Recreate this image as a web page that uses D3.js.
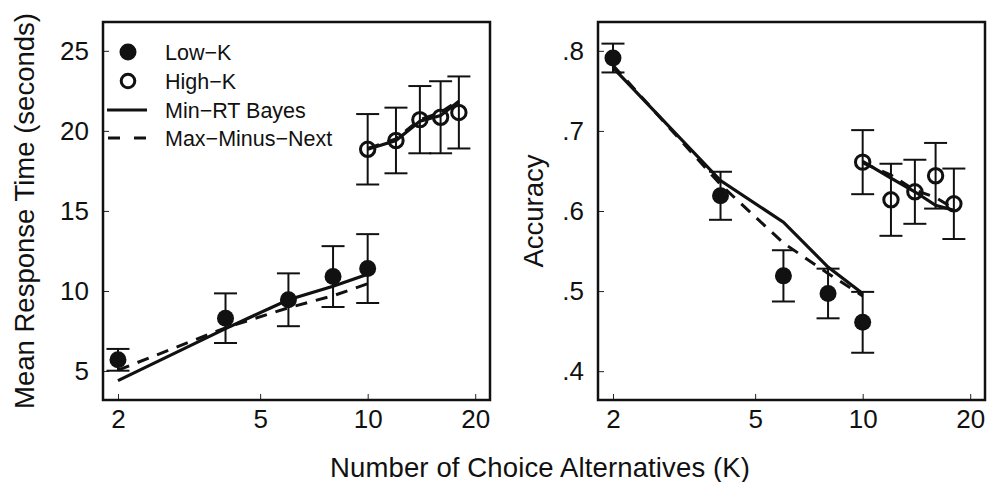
<!DOCTYPE html>
<html>
<head>
<meta charset="utf-8">
<script src="https://cdn.jsdelivr.net/npm/d3@7"></script>
<style>
  body { margin: 0; background: #fff; }
  svg text { font-family: "Liberation Sans", Arial, Helvetica, sans-serif; fill: #111; }
</style>
</head>
<body>
<div id="main"></div>
<script>
// number of alternatives
var kLow = [2, 4, 6, 8, 10];
var kHigh = [10, 12, 14, 16, 18];

// mean response time (seconds)
var rtLowMean = [5.7, 8.3, 9.45, 10.9, 11.4];
var rtLowErr = [0.68, 1.55, 1.65, 1.9, 2.15];
var rtHighMean = [18.85, 19.4, 20.7, 20.85, 21.15];
var rtHighErr = [2.2, 2.05, 2.1, 2.25, 2.25];
var rtLowBayes = [4.4, 7.65, 9.45, 10.3, 11.05];
var rtLowMMN = [5.05, 7.7, 8.95, 9.7, 10.45];
var rtHighBayes = [18.85, 19.4, 20.6, 20.95, 21.85];
var rtHighMMN = [18.9, 19.5, 20.7, 21.15, 21.9];

// accuracy
var accLowMean = [0.791, 0.619, 0.519, 0.497, 0.461];
var accLowErr = [0.018, 0.03, 0.032, 0.031, 0.038];
var accHighMean = [0.661, 0.614, 0.624, 0.644, 0.609];
var accHighErr = [0.04, 0.045, 0.04, 0.041, 0.044];
var accLowBayes = [0.779, 0.638, 0.586, 0.53, 0.497];
var accLowMMN = [0.782, 0.633, 0.56, 0.522, 0.494];
var accHighBayes = [0.662, 0.641, 0.624, 0.607, 0.601];
var accHighMMN = [0.66, 0.645, 0.626, 0.617, 0.603];

var xTicks = [2, 5, 10, 20];
var rtTicks = [5, 10, 15, 20, 25];
var accTicks = [0.4, 0.5, 0.6, 0.7, 0.8];
var legendLabels = ["Low\u2212K", "High\u2212K", "Min\u2212RT Bayes", "Max\u2212Minus\u2212Next"];

var W = 995, H = 482;
var pw = 387, ph = 378, plotTop = 22;

var svg = d3.select("#main")
  .append("svg")
    .attr("width", W)
    .attr("height", H);

var x = d3.scaleLog().domain([1.816, 22.0]).range([0, pw]);

function zip(ks, vs) {
  return ks.map(function(k, i) { return {k: k, v: vs[i]}; });
}

function panel(left, y, ticks, fmt, low, high) {
  var g = svg.append("g").attr("transform", "translate(" + left + "," + plotTop + ")");

  var yAxis = g.append("g")
    .call(d3.axisLeft(y).tickValues(ticks).tickSize(-6).tickPadding(14).tickFormat(fmt));
  var xAxis = g.append("g")
    .attr("transform", "translate(0," + ph + ")")
    .call(d3.axisBottom(x).tickValues(xTicks).tickSize(-6).tickPadding(10).tickFormat(d3.format("d")));
  [yAxis, xAxis].forEach(function(a) {
    a.select(".domain").remove();
    a.selectAll(".tick line").attr("stroke", "#222").attr("stroke-width", 1);
    a.selectAll(".tick text").style("font-size", "26px").attr("fill", "#111");
  });

  g.append("rect")
    .attr("width", pw).attr("height", ph)
    .attr("fill", "none").attr("stroke", "#111").attr("stroke-width", 2.5);

  // error bars
  [low, high].forEach(function(s) {
    var d = s.k.map(function(k, i) { return {k: k, m: s.mean[i], e: s.err[i]}; });
    var eb = g.append("g").attr("stroke", "#111").attr("stroke-width", 2).attr("fill", "none");
    eb.selectAll(".v").data(d).enter().append("line")
      .attr("x1", function(d) { return x(d.k); }).attr("x2", function(d) { return x(d.k); })
      .attr("y1", function(d) { return y(d.m - d.e); }).attr("y2", function(d) { return y(d.m + d.e); });
    [-1, 1].forEach(function(sg) {
      eb.selectAll(".c" + sg).data(d).enter().append("line")
        .attr("x1", function(d) { return x(d.k) - 11.5; }).attr("x2", function(d) { return x(d.k) + 11.5; })
        .attr("y1", function(d) { return y(d.m + sg * d.e); }).attr("y2", function(d) { return y(d.m + sg * d.e); });
    });
  });

  // model curves
  var line = d3.line().x(function(d) { return x(d.k); }).y(function(d) { return y(d.v); });
  [low, high].forEach(function(s) {
    g.append("path").datum(zip(s.k, s.mmn))
      .attr("d", line).attr("fill", "none").attr("stroke", "#111")
      .attr("stroke-width", 3).attr("stroke-dasharray", "12,9");
    g.append("path").datum(zip(s.k, s.bayes))
      .attr("d", line).attr("fill", "none").attr("stroke", "#111").attr("stroke-width", 3.2);
  });

  // points
  g.selectAll(".lowpt").data(zip(low.k, low.mean)).enter().append("circle")
    .attr("cx", function(d) { return x(d.k); }).attr("cy", function(d) { return y(d.v); })
    .attr("r", 8.5).attr("fill", "#111");
  g.selectAll(".highpt").data(zip(high.k, high.mean)).enter().append("circle")
    .attr("cx", function(d) { return x(d.k); }).attr("cy", function(d) { return y(d.v); })
    .attr("r", 7.2).attr("fill", "none").attr("stroke", "#111").attr("stroke-width", 3);

  return g;
}

var yRT = d3.scaleLinear().domain([3.19, 26.8]).range([ph, 0]);
var yAcc = d3.scaleLinear().domain([0.364, 0.836]).range([ph, 0]);

var g1 = panel(103, yRT, rtTicks, d3.format("d"),
  {k: kLow, mean: rtLowMean, err: rtLowErr, bayes: rtLowBayes, mmn: rtLowMMN},
  {k: kHigh, mean: rtHighMean, err: rtHighErr, bayes: rtHighBayes, mmn: rtHighMMN});

var g2 = panel(598, yAcc, accTicks, function(d) { return d3.format(".1f")(d).replace(/^0/, ""); },
  {k: kLow, mean: accLowMean, err: accLowErr, bayes: accLowBayes, mmn: accLowMMN},
  {k: kHigh, mean: accHighMean, err: accHighErr, bayes: accHighBayes, mmn: accHighMMN});

// legend
var leg = g1.append("g");
var rowY = [30, 59, 88, 116];
leg.append("circle").attr("cx", 25).attr("cy", rowY[0]).attr("r", 8.5).attr("fill", "#111");
leg.append("circle").attr("cx", 25).attr("cy", rowY[1]).attr("r", 6.8)
  .attr("fill", "none").attr("stroke", "#111").attr("stroke-width", 3);
leg.append("line").attr("x1", 4).attr("x2", 44).attr("y1", rowY[2]).attr("y2", rowY[2])
  .attr("stroke", "#111").attr("stroke-width", 3.2);
leg.append("line").attr("x1", 5).attr("x2", 45).attr("y1", rowY[3]).attr("y2", rowY[3])
  .attr("stroke", "#111").attr("stroke-width", 3).attr("stroke-dasharray", "12,14");
leg.selectAll("text.lab").data(legendLabels).enter().append("text")
  .attr("class", "lab")
  .attr("x", 62)
  .attr("y", function(d, i) { return rowY[i]; })
  .attr("dy", "0.36em")
  .style("font-size", "21.5px")
  .text(function(d) { return d; });

// axis titles
svg.append("text")
  .attr("transform", "translate(34," + (plotTop + ph / 2) + ")rotate(-90)")
  .attr("text-anchor", "middle")
  .style("font-size", "27.5px")
  .text("Mean Response Time (seconds)");

svg.append("text")
  .attr("transform", "translate(543," + (plotTop + ph / 2) + ")rotate(-90)")
  .attr("text-anchor", "middle")
  .style("font-size", "27.5px")
  .text("Accuracy");

svg.append("text")
  .attr("x", 540)
  .attr("y", 477)
  .attr("text-anchor", "middle")
  .style("font-size", "27.5px")
  .attr("textLength", 420)
  .text("Number of Choice Alternatives (K)");
</script>
</body>
</html>
